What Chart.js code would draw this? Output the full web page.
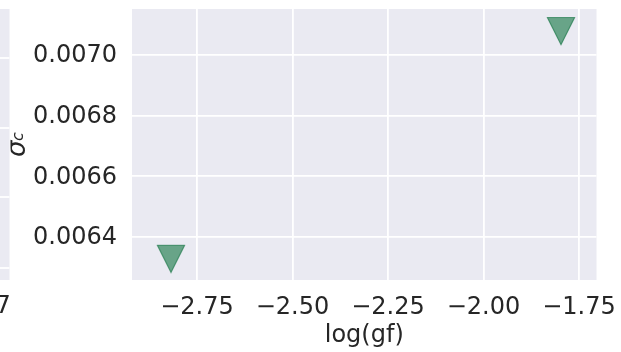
<!DOCTYPE html>
<html>
<head>
<meta charset="utf-8">
<script src="https://cdn.jsdelivr.net/npm/chart.js@4/dist/chart.umd.min.js"></script>
<style>
  body { margin: 0; background: #fff; }
  #chart-area { width: 621px; height: 352px; }
</style>
</head>
<body>
<div id="chart-area"><canvas id="c" width="621" height="352"></canvas></div>
<script>
// values
const logGf = [-2.818, -1.797];
const sigmaC = [0.006328, 0.007079];
const xTicks = [-2.75, -2.50, -2.25, -2.00, -1.75];
const yTicks = [0.0064, 0.0066, 0.0068, 0.0070];
const xRange = [-2.920, -1.704];
const yRange = [0.006258, 0.0071516];

const FONT = "'DejaVu Sans'";
const TEXT = '#262626';
const PANEL = '#EAEAF2';

// matplotlib style 'v' marker
function makeMarker(size) {
  const c = document.createElement('canvas');
  c.width = size + 3;
  c.height = size + 3;
  const g = c.getContext('2d');
  const o = 1.5;
  g.beginPath();
  g.moveTo(o, o);
  g.lineTo(o + size, o);
  g.lineTo(o + size / 2, o + size);
  g.closePath();
  g.fillStyle = 'rgba(60,140,100,0.75)';
  g.fill();
  g.lineWidth = 1.2;
  g.strokeStyle = 'rgba(55,135,95,0.9)';
  g.stroke();
  return c;
}

function minus(v, d) {
  return v.toFixed(d).replace('-', '\u2212');
}

const panelBg = {
  id: 'panelBg',
  beforeDraw(chart) {
    const a = chart.chartArea;
    const ctx = chart.ctx;
    ctx.save();
    ctx.fillStyle = PANEL;
    ctx.fillRect(a.left, a.top, a.right - a.left, a.bottom - a.top);
    ctx.restore();
  }
};

// y label (sigma_c, cut at the left like in the source) and the edge of the neighbouring subplot
const extras = {
  id: 'extras',
  afterDraw(chart) {
    const ctx = chart.ctx;
    ctx.save();
    ctx.beginPath();
    ctx.rect(10.5, 0, 40, 352);
    ctx.clip();
    ctx.translate(24.5, 157);
    ctx.rotate(-Math.PI / 2);
    ctx.fillStyle = TEXT;
    ctx.textBaseline = 'alphabetic';
    ctx.font = 'italic 26px ' + FONT;
    ctx.fillText('\u03c3', 0, 0);
    ctx.font = 'italic 16px ' + FONT;
    ctx.fillText('c', 16, -1.5);
    ctx.restore();

    ctx.save();
    ctx.fillStyle = PANEL;
    ctx.fillRect(0, 9, 9.5, 271);
    ctx.strokeStyle = '#fff';
    ctx.lineWidth = 1.8;
    [58, 128, 197, 268].forEach(function (y) {
      ctx.beginPath();
      ctx.moveTo(0, y);
      ctx.lineTo(9.5, y);
      ctx.stroke();
    });
    ctx.fillStyle = TEXT;
    ctx.font = '24px ' + FONT;
    ctx.textBaseline = 'alphabetic';
    ctx.fillText('7', -4.5, 313);
    ctx.restore();
  }
};

const chartData = {
  type: 'scatter',
  data: {
    datasets: [{
      data: logGf.map(function (x, i) { return { x: x, y: sigmaC[i] }; }),
      pointStyle: makeMarker(27),
      pointRadius: 14,
      pointHoverRadius: 14
    }]
  },
  options: {
    responsive: false,
    animation: false,
    events: [],
    layout: { autoPadding: false, padding: { left: 0, right: 24.5, top: 9, bottom: 0 } },
    plugins: { legend: { display: false }, tooltip: { enabled: false } },
    scales: {
      x: {
        type: 'linear',
        min: xRange[0],
        max: xRange[1],
        afterBuildTicks: function (s) { s.ticks = xTicks.map(function (v) { return { value: v }; }); },
        afterFit: function (s) { s.height = 72; s.paddingLeft = 0; s.paddingRight = 0; },
        grid: { color: '#fff', lineWidth: 1.8, drawTicks: false },
        border: { display: false },
        ticks: {
          autoSkip: false,
          maxRotation: 0,
          padding: 13,
          color: TEXT,
          font: { family: FONT, size: 24 },
          callback: function (v) { return minus(v, 2); }
        },
        title: {
          display: true,
          text: 'log(gf)',
          color: TEXT,
          font: { family: FONT, size: 24 },
          padding: { top: 0, bottom: 2 }
        }
      },
      y: {
        type: 'linear',
        min: yRange[0],
        max: yRange[1],
        afterBuildTicks: function (s) { s.ticks = yTicks.map(function (v) { return { value: v }; }); },
        afterFit: function (s) { s.width = 132; s.paddingTop = 0; s.paddingBottom = 0; },
        grid: { color: '#fff', lineWidth: 1.8, drawTicks: false },
        border: { display: false },
        ticks: {
          padding: 15,
          labelOffset: 1,
          color: TEXT,
          font: { family: FONT, size: 24 },
          callback: function (v) { return v.toFixed(4); }
        }
      }
    }
  },
  plugins: [panelBg, extras]
};

const ctx = document.getElementById('c');
const myChart = new Chart(ctx, chartData);
</script>
</body>
</html>
